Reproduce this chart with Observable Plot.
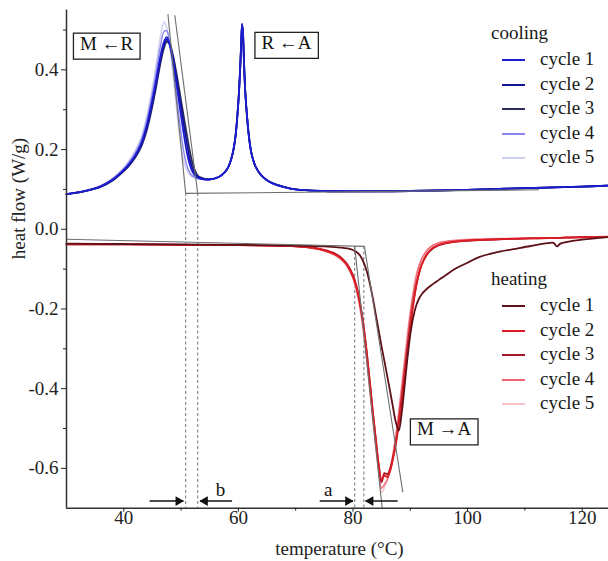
<!DOCTYPE html>
<html><head><meta charset="utf-8">
<script src="https://cdn.jsdelivr.net/npm/d3@7"></script>
<script src="https://cdn.jsdelivr.net/npm/@observablehq/plot@0.6"></script>
<style>
body{margin:0;background:#fff;}
#wrap{position:relative;width:608px;height:561px;font-family:"Liberation Serif","Times New Roman",serif;color:#1a1a1a;overflow:hidden;}
#wrap svg text{font-family:"Liberation Serif","Times New Roman",serif;}
.lg{position:absolute;font-size:19px;line-height:20px;height:20px;white-space:nowrap;}
.sw{position:absolute;width:23px;height:2px;}
</style></head><body><div id="wrap"></div>
<script>
// ---------- data ----------
const coolT = [30, 33, 36, 38, 40, 41, 42, 43, 44, 45, 45.5, 46, 46.5, 47, 47.5, 48, 48.5, 49, 49.5, 50, 50.5, 51, 51.5, 52, 52.5, 53, 54, 55, 56, 57, 58, 58.5, 59, 59.5, 60, 60.3, 60.5, 60.65, 60.8, 61.0, 61.2, 61.5, 61.8, 62.2, 62.5, 63, 64, 65, 66, 68, 70, 75, 80, 90, 100, 110, 120, 125];
const coolC1 = [0.088, 0.095, 0.108, 0.124, 0.149, 0.165, 0.186, 0.214, 0.260, 0.326, 0.363, 0.404, 0.442, 0.470, 0.482, 0.464, 0.428, 0.383, 0.334, 0.284, 0.236, 0.194, 0.163, 0.144, 0.134, 0.129,
  0.125, 0.125, 0.128, 0.135, 0.150, 0.165, 0.190, 0.234, 0.320, 0.400, 0.470, 0.515, 0.492, 0.412, 0.345, 0.285, 0.238, 0.196, 0.178, 0.157, 0.135, 0.123, 0.115, 0.106, 0.100, 0.096, 0.095, 0.096, 0.099, 0.103, 0.107, 0.110];
const coolC2 = [0.088, 0.095, 0.107, 0.123, 0.147, 0.163, 0.183, 0.210, 0.254, 0.318, 0.354, 0.394, 0.432, 0.462, 0.476, 0.465, 0.436, 0.397, 0.352, 0.306, 0.260, 0.216, 0.178, 0.152, 0.139, 0.131,
  0.126, 0.125, 0.128, 0.135, 0.150, 0.165, 0.190, 0.234, 0.320, 0.400, 0.470, 0.515, 0.492, 0.412, 0.345, 0.285, 0.238, 0.196, 0.178, 0.157, 0.135, 0.123, 0.115, 0.106, 0.100, 0.096, 0.095, 0.096, 0.099, 0.103, 0.107, 0.110];
const coolC3 = [0.088, 0.095, 0.107, 0.122, 0.146, 0.161, 0.180, 0.206, 0.248, 0.310, 0.346, 0.386, 0.424, 0.454, 0.470, 0.465, 0.442, 0.407, 0.366, 0.323, 0.280, 0.238, 0.198, 0.165, 0.145, 0.133,
  0.127, 0.125, 0.128, 0.135, 0.150, 0.165, 0.190, 0.234, 0.320, 0.400, 0.470, 0.515, 0.492, 0.412, 0.345, 0.285, 0.238, 0.196, 0.178, 0.157, 0.135, 0.123, 0.115, 0.106, 0.100, 0.096, 0.095, 0.096, 0.099, 0.103, 0.107, 0.110];
const coolC4 = [0.088, 0.096, 0.109, 0.126, 0.152, 0.170, 0.192, 0.222, 0.272, 0.342, 0.382, 0.426, 0.468, 0.496, 0.498, 0.468, 0.420, 0.360, 0.298, 0.240, 0.192, 0.160, 0.143, 0.134, 0.130, 0.127,
  0.125, 0.125, 0.128, 0.135, 0.150, 0.165, 0.190, 0.234, 0.320, 0.400, 0.470, 0.515, 0.492, 0.412, 0.345, 0.285, 0.238, 0.196, 0.178, 0.157, 0.135, 0.123, 0.115, 0.106, 0.100, 0.096, 0.095, 0.096, 0.099, 0.103, 0.107, 0.110];
const coolC5 = [0.088, 0.096, 0.110, 0.128, 0.155, 0.174, 0.198, 0.230, 0.284, 0.358, 0.401, 0.448, 0.492, 0.520, 0.507, 0.460, 0.400, 0.332, 0.262, 0.205, 0.168, 0.148, 0.137, 0.131, 0.128, 0.126,
  0.125, 0.125, 0.128, 0.135, 0.150, 0.165, 0.190, 0.234, 0.320, 0.400, 0.470, 0.515, 0.492, 0.412, 0.345, 0.285, 0.238, 0.196, 0.178, 0.157, 0.135, 0.123, 0.115, 0.106, 0.100, 0.096, 0.095, 0.096, 0.099, 0.103, 0.107, 0.110];

const heatT = [30, 40, 50, 60, 65, 70, 73, 75, 77, 78, 79, 80, 80.5, 81, 81.5, 82, 82.5, 83, 83.5, 84, 84.5, 85, 85.5, 86, 86.5, 87, 87.5, 88, 88.5, 89, 89.5, 90, 90.5, 91, 91.5, 92, 93, 94, 95, 96, 98, 100, 102, 105, 108, 111, 114, 115, 115.6, 116.2, 117, 120, 125];
const heatC1 = [-0.036, -0.037, -0.038, -0.039, -0.040, -0.041, -0.042, -0.043, -0.045, -0.046, -0.048, -0.052, -0.056, -0.062, -0.072, -0.088, -0.110, -0.140, -0.175, -0.215, -0.255, -0.295, -0.332, -0.370, -0.408, -0.448, -0.485, -0.505, -0.462, -0.395, -0.325, -0.265, -0.222, -0.193, -0.175, -0.163, -0.148, -0.137, -0.127, -0.117, -0.098, -0.084, -0.070, -0.058, -0.050, -0.042, -0.035, -0.034, -0.043, -0.036, -0.033, -0.026, -0.019];
const heatC2 = [-0.038, -0.038, -0.039, -0.040, -0.041, -0.043, -0.047, -0.053, -0.064, -0.074, -0.090, -0.118, -0.140, -0.170, -0.210, -0.262, -0.325, -0.395, -0.465, -0.530, -0.590, -0.628, -0.618, -0.622, -0.606, -0.575, -0.538, -0.488, -0.432, -0.372, -0.310, -0.248, -0.192, -0.146, -0.112, -0.088, -0.060, -0.046, -0.039, -0.035, -0.031, -0.028, -0.027, -0.025, -0.024, -0.023, -0.022, -0.022, -0.022, -0.022, -0.021, -0.020, -0.019];
const heatC3 = [-0.038, -0.038, -0.039, -0.040, -0.041, -0.043, -0.046, -0.052, -0.062, -0.072, -0.088, -0.115, -0.137, -0.167, -0.207, -0.258, -0.320, -0.390, -0.462, -0.528, -0.595, -0.635, -0.612, -0.615, -0.600, -0.572, -0.535, -0.482, -0.425, -0.362, -0.298, -0.238, -0.186, -0.143, -0.112, -0.089, -0.062, -0.048, -0.040, -0.036, -0.031, -0.029, -0.027, -0.026, -0.024, -0.023, -0.022, -0.022, -0.022, -0.022, -0.021, -0.020, -0.019];
const heatC4 = [-0.038, -0.038, -0.039, -0.040, -0.041, -0.043, -0.047, -0.054, -0.066, -0.076, -0.093, -0.122, -0.146, -0.178, -0.220, -0.274, -0.338, -0.408, -0.478, -0.545, -0.605, -0.650, -0.640, -0.628, -0.604, -0.565, -0.520, -0.462, -0.400, -0.335, -0.272, -0.212, -0.163, -0.122, -0.094, -0.075, -0.052, -0.040, -0.034, -0.031, -0.028, -0.026, -0.025, -0.024, -0.023, -0.022, -0.021, -0.021, -0.021, -0.021, -0.020, -0.019, -0.018];
const heatC5 = [-0.038, -0.038, -0.039, -0.040, -0.041, -0.043, -0.048, -0.055, -0.067, -0.078, -0.095, -0.125, -0.150, -0.183, -0.226, -0.281, -0.346, -0.416, -0.487, -0.553, -0.612, -0.660, -0.648, -0.630, -0.600, -0.558, -0.510, -0.450, -0.387, -0.322, -0.260, -0.202, -0.155, -0.116, -0.090, -0.072, -0.050, -0.039, -0.033, -0.030, -0.027, -0.025, -0.024, -0.023, -0.022, -0.021, -0.021, -0.021, -0.021, -0.021, -0.020, -0.019, -0.018];

const cycleNames = ["cycle 1", "cycle 2", "cycle 3", "cycle 4", "cycle 5"];
const coolColors = ["#1c1cd0", "#14149a", "#2c2c5a", "#8c86ee", "#cdd0f0"];
const heatColors = ["#5e1019", "#dc1c22", "#a41628", "#ef6470", "#f6c2c8"];

// construction (tangent / baseline) lines
const tanX1 = [50.8, 47.7, 48.9, 30.0, 80.3, 82.0];
const tanY1 = [0.090, 0.540, 0.537, -0.025, -0.043, -0.043];
const tanX2 = [112.5, 50.8, 52.9, 82.0, 85.1, 88.7];
const tanY2 = [0.099, 0.090, 0.090, -0.043, -0.700, -0.660];
// dashed onset markers
const dashX = [50.8, 52.9, 80.3, 81.9];
const dashTop = [0.090, 0.090, -0.043, -0.043];
// hysteresis arrows "b" and "a"
const arrowFrom = [44.5, 58.9, 74.2, 87.8];
const arrowTo = [50.4, 53.3, 80.0, 82.2];
const arrowY = -0.682;
const gapLabels = ["b", "a"];
const gapLabelX = [56.9, 75.7];
const gapLabelY = -0.655;
// transition boxes
const boxText = ["M \u2190R", "R \u2190A", "M \u2192A"];
const boxX = [37.0, 68.4, 95.9];
const boxY = [0.466, 0.468, -0.502];

const xTicks = [40, 60, 80, 100, 120];
const xMinor = [50, 70, 90, 110];
const yTicks = [-0.6, -0.4, -0.2, 0, 0.2, 0.4];
const yMinor = [-0.5, -0.3, -0.1, 0.1, 0.3, 0.5];
const xDomain = [30, 124.6];
const yDomain = [-0.70, 0.55];

// ---------- build ----------
const serif = '"Liberation Serif","Times New Roman",serif';
const rows = (T, V) => T.map((t, i) => ({t, v: V[i]}));
const coolVals = [coolC1, coolC2, coolC3, coolC4, coolC5];
const heatVals = [heatC1, heatC2, heatC3, heatC4, heatC5];
const coolOrder = [4, 3, 2, 1, 0];
const heatOrder = [4, 3, 2, 1, 0];
const curveMarks = [];
for (const i of coolOrder) curveMarks.push(Plot.line(rows(coolT, coolVals[i]), {x: "t", y: "v", stroke: coolColors[i], strokeWidth: i >= 3 ? 1.4 : 1.8, curve: "catmull-rom"}));
for (const i of heatOrder) curveMarks.push(Plot.line(rows(heatT, heatVals[i]), {x: "t", y: "v", stroke: heatColors[i], strokeWidth: i >= 3 ? 1.4 : 1.8, curve: "catmull-rom"}));

const idx = a => a.map((_, i) => i);
const rightArrows = idx(arrowFrom).filter(i => arrowTo[i] > arrowFrom[i]);
const leftArrows = idx(arrowFrom).filter(i => arrowTo[i] < arrowFrom[i]);
const T = {fontFamily: serif, fontSize: 19};

const svg = Plot.plot({
  width: 608, height: 561,
  marginLeft: 66, marginRight: 0, marginTop: 9.6, marginBottom: 53.3,
  x: {domain: xDomain},
  y: {domain: yDomain},
  style: {fontFamily: serif, fontSize: "19px", color: "#222", background: "white"},
  marks: [
    Plot.ruleX(idx(dashX), {x: i => dashX[i], y1: i => dashTop[i], y2: yDomain[0], stroke: "#808080", strokeWidth: 1.1, strokeDasharray: "3,2.5"}),
    ...curveMarks,
    Plot.link(idx(tanX1), {x1: i => tanX1[i], y1: i => tanY1[i], x2: i => tanX2[i], y2: i => tanY2[i], stroke: "#6e6e6e", strokeWidth: 1.1}),
    Plot.ruleX([xDomain[0]], {stroke: "#333", strokeWidth: 1.5}),
    Plot.ruleY([yDomain[0]], {stroke: "#333", strokeWidth: 1.5}),
    Plot.axisX({...T, ticks: xTicks, tickSize: 4, tickPadding: -2, label: null, tickFormat: d => String(d)}),
    Plot.axisX({ticks: xMinor, tickSize: 3, label: null, tickFormat: () => ""}),
    Plot.axisY({...T, ticks: yTicks, tickSize: 5, tickPadding: 3, label: null, tickFormat: d => d.toFixed(1)}),
    Plot.axisY({ticks: yMinor, tickSize: 3, label: null, tickFormat: () => ""}),
    Plot.text(["temperature (\u00B0C)"], {...T, text: d => d, frameAnchor: "bottom", dy: 41, dx: 2, lineAnchor: "middle", fill: "#222"}),
    Plot.text(["heat flow (W/g)"], {...T, text: d => d, frameAnchor: "left", dx: -48, rotate: -90, lineAnchor: "middle", fill: "#222"}),
    // arrows
    Plot.link(idx(arrowFrom), {x1: i => arrowFrom[i], x2: i => arrowTo[i], y1: arrowY, y2: arrowY, stroke: "#111", strokeWidth: 1.5}),
    Plot.dot(rightArrows, {x: i => arrowTo[i], y: arrowY, symbol: "triangle", r: 3.6, rotate: 90, dx: -5, fill: "#111", stroke: "none"}),
    Plot.dot(leftArrows, {x: i => arrowTo[i], y: arrowY, symbol: "triangle", r: 3.6, rotate: -90, dx: 5, fill: "#111", stroke: "none"}),
    Plot.text(idx(gapLabels), {...T, x: i => gapLabelX[i], y: gapLabelY, text: i => gapLabels[i], fill: "#111", lineAnchor: "middle"}),
    // transition labels (boxes added after render)
    Plot.text(idx(boxText), {...T, x: i => boxX[i], y: i => boxY[i], text: i => boxText[i], fill: "#111", lineAnchor: "middle"})
  ]
});

const wrap = document.getElementById("wrap");
wrap.appendChild(svg);
svg.style.position = "absolute"; svg.style.left = "0"; svg.style.top = "0";

// frame the transition labels
d3.select(svg).selectAll("text").filter(function () { return boxText.includes(this.textContent); }).each(function () {
  const b = this.getBBox();
  const r = document.createElementNS("http://www.w3.org/2000/svg", "rect");
  r.setAttribute("x", b.x - 6.5);
  r.setAttribute("y", b.y + 0.5);
  r.setAttribute("width", b.width + 13);
  r.setAttribute("height", b.height + 5);
  r.setAttribute("fill", "white");
  r.setAttribute("stroke", "#222");
  r.setAttribute("stroke-width", "1.3");
  const tr = this.getAttribute("transform");
  if (tr) r.setAttribute("transform", tr);
  this.parentNode.insertBefore(r, this);
});

// legends (inside the plot area, drawn as HTML overlay)
function legend(title, colors, headTop, itemTop, step) {
  const h = document.createElement("div");
  h.className = "lg"; h.textContent = title;
  h.style.left = "491px"; h.style.top = headTop + "px";
  wrap.appendChild(h);
  cycleNames.forEach((name, i) => {
    const top = itemTop + i * step;
    const sw = document.createElement("div");
    sw.className = "sw";
    sw.style.left = "502px"; sw.style.top = (top + 10) + "px";
    sw.style.background = colors[i];
    wrap.appendChild(sw);
    const t = document.createElement("div");
    t.className = "lg"; t.textContent = name;
    t.style.left = "540px"; t.style.top = top + "px";
    wrap.appendChild(t);
  });
}
legend("cooling", coolColors, 23, 49, 24.6);
legend("heating", heatColors, 269, 295, 24.6);
</script></body></html>
